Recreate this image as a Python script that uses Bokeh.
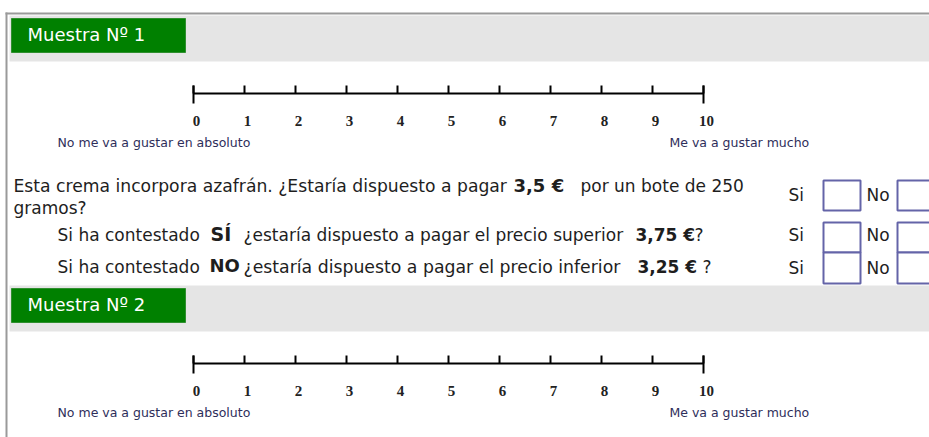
from bokeh.plotting import figure
from bokeh.models import Range1d
from bokeh.core.properties import value
from bokeh.embed import file_html
from bokeh.resources import INLINE

# ---------------- data ----------------
scale_values = [0, 1, 2, 3, 4, 5, 6, 7, 8, 9, 10]
scale_labels = ["0", "1", "2", "3", "4", "5", "6", "7", "8", "9", "10"]
low_anchor = "No me va a gustar en absoluto"
high_anchor = "Me va a gustar mucho"
sample_titles = ["Muestra Nº 1", "Muestra Nº 2"]

q1_parts = ["Esta crema incorpora azafrán. ¿Estaría dispuesto a pagar", "3,5 €", "por un bote de 250"]
q1_cont = "gramos?"
q2_parts = ["Si ha contestado", "SÍ", "¿estaría dispuesto a pagar el precio superior", "3,75 €", "?"]
q3_parts = ["Si ha contestado", "NO", "¿estaría dispuesto a pagar el precio inferior", "3,25 €", "?"]
answers = ["Si", "No"]

# ---------------- layout helpers (pixel positions of the page) ----------------
PX0, PXU = 193.0, 51.0          # pixel of scale value 0, pixels per unit
def ux(X):
    return (X - PX0) / PXU

FONT = value("DejaVu Sans")
TXT = "#1e1e1e"

p = figure(width=929, height=437,
           x_range=Range1d(ux(0), ux(929)), y_range=Range1d(437, 0),
           output_backend="svg", toolbar_location=None,
           x_axis_location=None, y_axis_location=None,
           min_border=0, outline_line_color=None)
p.xgrid.visible = False
p.ygrid.visible = False
p.background_fill_color = "white"

# frame
p.segment(x0=[ux(5)], x1=[ux(940)], y0=[13], y1=[13], line_color="#9a9a9a", line_width=2)
p.segment(x0=[ux(6)], x1=[ux(6)], y0=[12], y1=[440], line_color="#9a9a9a", line_width=2)

section_dy = [0, 270]
for title, dy in zip(sample_titles, section_dy):
    # grey band and green tab
    p.quad(left=[ux(9)], right=[ux(940)], top=[15 + dy], bottom=[61 + dy],
           fill_color="#e5e5e5", line_color=None)
    p.quad(left=[ux(11)], right=[ux(185)], top=[18 + dy], bottom=[52 + dy],
           fill_color="#008000", line_color="#2f8f2f", line_width=1)
    p.text(x=[ux(27)], y=[34 + dy], text=[title], text_color="white",
           text_font=FONT, text_font_size=value("18px"),
           text_baseline="middle", text_align="left")

    # rating scale
    ly = 93 + dy
    p.segment(x0=[min(scale_values)], x1=[max(scale_values)], y0=[ly], y1=[ly],
              line_color="black", line_width=2)
    p.segment(x0=scale_values, x1=scale_values, y0=[ly - 8] * len(scale_values),
              y1=[ly] * len(scale_values), line_color="black", line_width=2)
    ends = [min(scale_values), max(scale_values)]
    p.segment(x0=ends, x1=ends, y0=[ly - 8] * 2, y1=[ly + 10] * 2,
              line_color="black", line_width=2)
    p.text(x=scale_values, y=[ly + 27] * len(scale_values), text=scale_labels,
           x_offset=3, text_align="center", text_baseline="middle",
           text_font=value("Liberation Serif"), text_font_style="bold",
           text_font_size=value("15px"), text_color="#222222")
    p.text(x=[ux(57)], y=[ly + 49], text=[low_anchor], text_align="left",
           text_baseline="middle", text_font=FONT, text_font_size=value("12.5px"),
           text_color="#2e2e5a")
    p.text(x=[ux(669)], y=[ly + 48.5], text=[high_anchor], text_align="left",
           text_baseline="middle", text_font=FONT, text_font_size=value("12.5px"),
           text_color="#2e2e5a")

# question text (segments placed at measured positions)
def seg(txt, X, Y, bold=False, size="17px"):
    p.text(x=[ux(X)], y=[Y], text=[txt], text_align="left", text_baseline="middle",
           text_font=FONT, text_font_size=value(size),
           text_font_style="bold" if bold else "normal", text_color=TXT)

seg(q1_parts[0], 13, 185, size="17.2px")
seg(q1_parts[1], 513, 185, bold=True, size="18px")
seg(q1_parts[2], 580, 185)
seg(q1_cont, 13, 207)

seg(q2_parts[0], 57, 234)
seg(q2_parts[1], 210, 233, bold=True, size="19px")
seg(q2_parts[2], 243, 234)
seg(q2_parts[3], 635, 234, bold=True)
seg(q2_parts[4], 694, 234)

seg(q3_parts[0], 57, 266)
seg(q3_parts[1], 209, 265, bold=True, size="18px")
seg(q3_parts[2], 243, 266, size="17.3px")
seg(q3_parts[3], 637, 266, bold=True)
seg(q3_parts[4], 702, 266)

# Si / No answer boxes
row_label_y = [194, 234, 267]
row_box = [(180, 210), (222, 252), (252, 283)]
for ly, (bt, bb) in zip(row_label_y, row_box):
    p.text(x=[ux(788), ux(866)], y=[ly, ly], text=answers, text_align="left",
           text_baseline="middle", text_font=FONT, text_font_size=value("17px"),
           text_color=TXT)
    p.quad(left=[ux(823), ux(897)], right=[ux(860), ux(934)], top=[bt, bt], bottom=[bb, bb],
           fill_color="white", line_color="#6464a8", line_width=2)

open("out.html", "w").write(file_html(p, INLINE))
